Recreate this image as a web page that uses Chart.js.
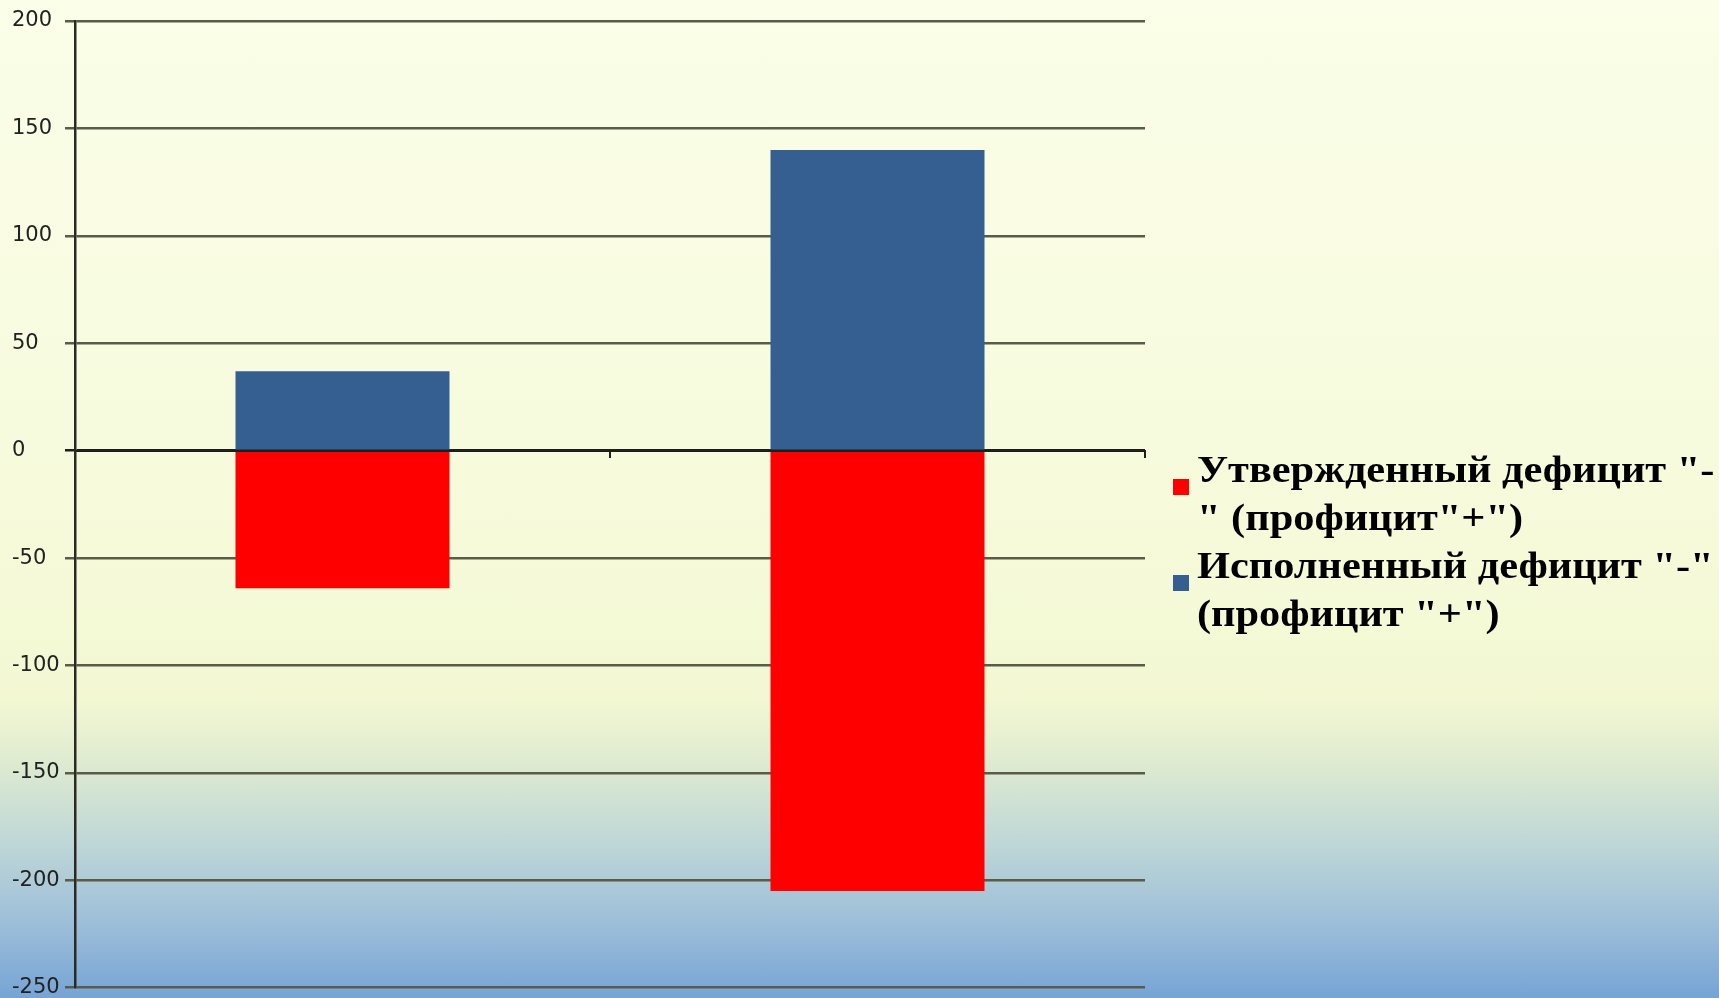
<!DOCTYPE html>
<html>
<head>
<meta charset="utf-8">
<script src="https://cdn.jsdelivr.net/npm/chart.js@4/dist/chart.umd.min.js"></script>
<style>
  html, body { margin: 0; padding: 0; }
  body {
    width: 1719px; height: 998px; overflow: hidden; position: relative;
    background: linear-gradient(to bottom, #fbfee8 0%, #f7fbdd 45%, #f3f8d3 70%, #e0ecd0 76%, #c0d8d6 84%, #9fc0d9 92%, #76a4d5 100%);
  }
  #wrap { position: absolute; left: 0; top: 0; width: 1719px; height: 998px; }
  #legend { position: absolute; left: 1173px; top: 445px; font-family: "Liberation Serif", "Times New Roman", serif; font-weight: bold; font-size: 38px; line-height: 48px; color: #000; }
  .item { position: relative; padding-left: 24px; }
  .item .sw { position: absolute; left: 0; top: 34px; width: 16px; height: 16px; }
  .item .txt { transform: scaleX(1.115); transform-origin: left top; white-space: pre; }
</style>
</head>
<body>
<div id="wrap"><canvas id="deficitChart"></canvas></div>
<div id="legend"></div>
<script>
const categories = ["", ""];
const approvedLabel = ["Утвержденный дефицит \"-", "\" (профицит\"+\")"];
const executedLabel = ["Исполненный дефицит \"-\"", "(профицит \"+\")"];
const approved = [-64, -205];   // red
const executed = [37, 140];     // blue
const yTicks = [200, 150, 100, 50, 0, -50, -100, -150, -200, -250];

const gridDark = "#5b5b4a";

const deficitChart = new Chart(document.getElementById("deficitChart"), {
  type: "bar",
  data: {
    labels: categories,
    datasets: [{
      label: approvedLabel.join(""),
      data: approved,
      backgroundColor: "#ff0000",
      borderWidth: 0,
      categoryPercentage: 0.8,
      barPercentage: 0.5
    }, {
      label: executedLabel.join(""),
      data: executed,
      backgroundColor: "#365f91",
      borderWidth: 0,
      categoryPercentage: 0.8,
      barPercentage: 0.5
    }]
  },
  options: {
    animation: false,
    responsive: true,
    maintainAspectRatio: false,
    layout: { padding: { left: 12, right: 574, top: 21, bottom: 6 } },
    plugins: { legend: { display: false }, tooltip: { enabled: false } },
    scales: {
      x: {
        stacked: true,
        position: { y: 0 },
        offset: true,
        ticks: { display: false },
        grid: { drawOnChartArea: false, tickLength: 6, color: "#1e1e1a", lineWidth: 2 },
        border: { color: "#1e1e1a", width: 2 }
      },
      y: {
        stacked: true,
        min: Math.min(...yTicks),
        max: Math.max(...yTicks),
        afterBuildTicks: (scale) => { scale.ticks = yTicks.map(v => ({ value: v })); },
        afterFit: (scale) => { scale.width = 63; },
        ticks: {
          crossAlign: "far",
          color: "#222222",
          font: { family: "DejaVu Sans", size: 21, lineHeight: 0.6 },
          padding: 4
        },
        grid: {
          tickLength: 10,
          lineWidth: 2.5,
          color: (ctx) => ctx.tick && ctx.tick.value === 0 ? "#1e1e1a" : gridDark
        },
        border: { color: "#2a2a22", width: 2.5 }
      }
    }
  }
});

// legend (wrapped text, like the original)
const legendItems = [
  { lines: approvedLabel, color: "#ff0000" },
  { lines: executedLabel, color: "#365f91" }
];
const legendEl = document.getElementById("legend");
legendItems.forEach(it => {
  const d = document.createElement("div");
  d.className = "item";
  d.innerHTML = '<span class="sw" style="background:' + it.color + '"></span>' +
    '<div class="txt">' + it.lines.map(l => l.replace(/</g, "&lt;")).join("\n") + '</div>';
  legendEl.appendChild(d);
});
</script>
</body>
</html>
